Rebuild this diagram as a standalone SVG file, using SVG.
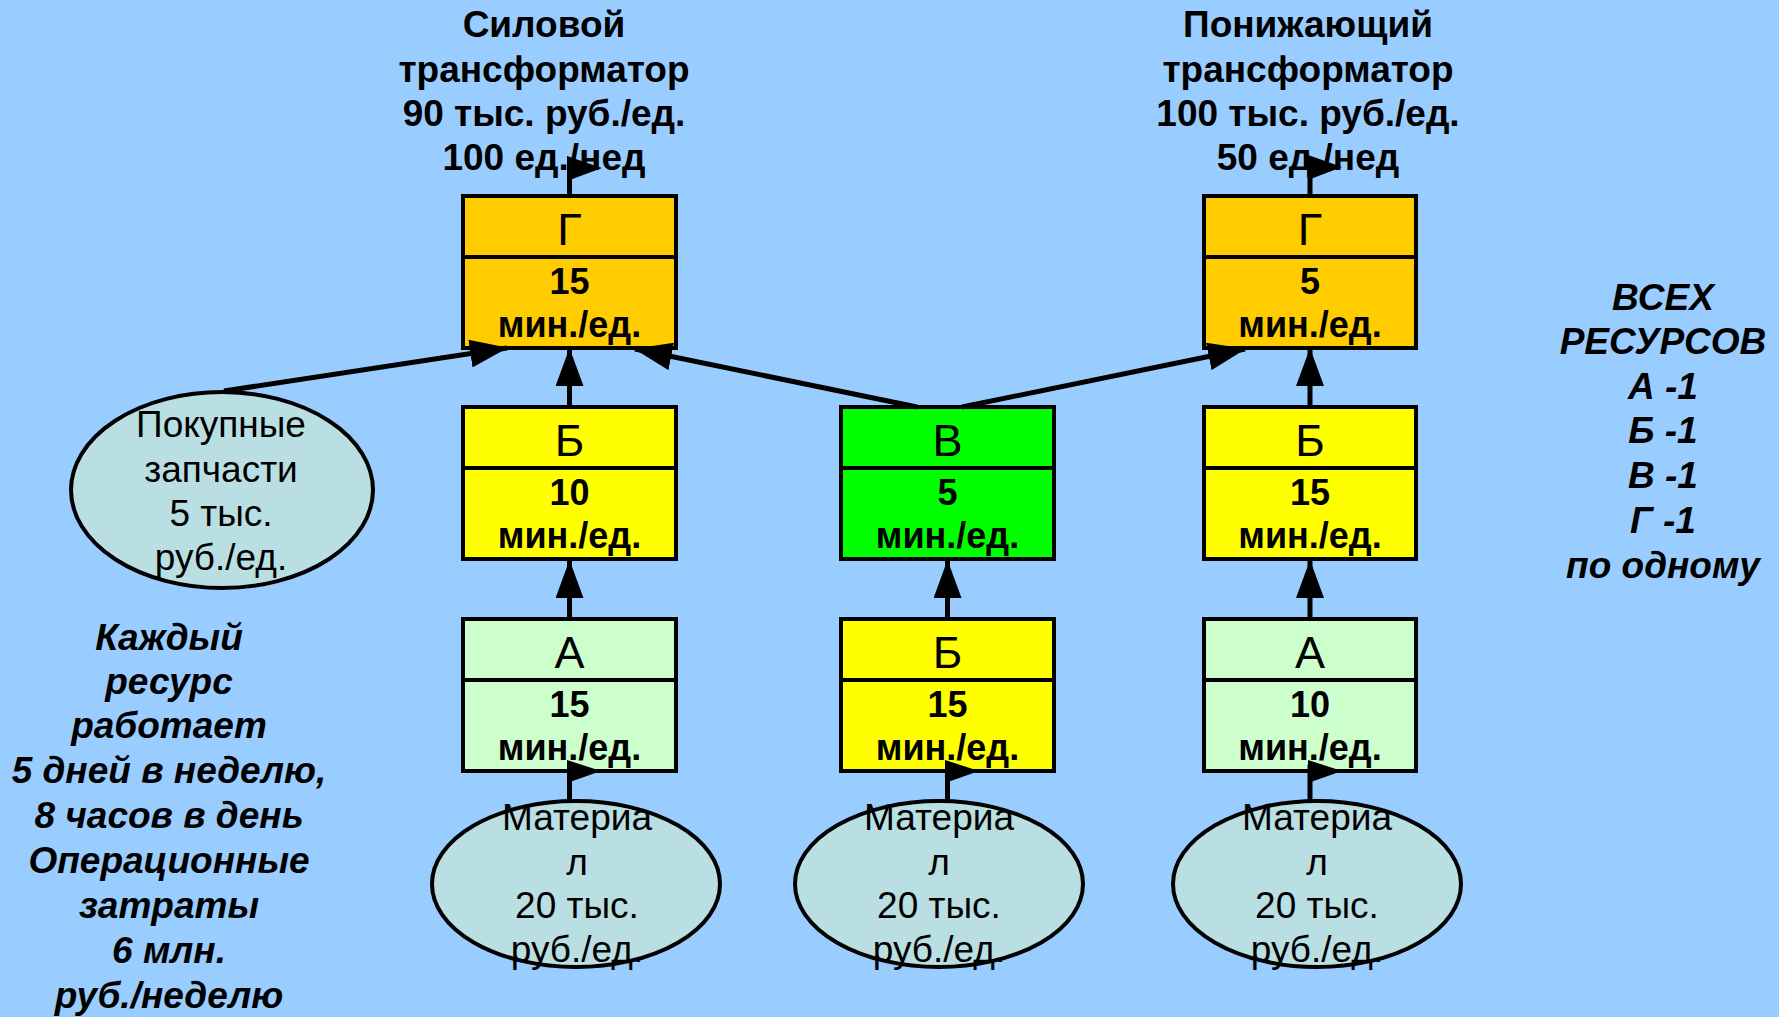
<svg xmlns="http://www.w3.org/2000/svg" width="1779" height="1017" viewBox="0 0 1779 1017">
<defs>
<style>
.bg{fill:#99CCFF}
.box{stroke:#000;stroke-width:4}
.div{stroke:#000;stroke-width:4}
.g{fill:#FFCC00}.b{fill:#FFFF00}.v{fill:#00FF00}.a{fill:#CCFFCC}
.ell{fill:#BADFE2;stroke:#000;stroke-width:4}
.t{font-family:"Liberation Sans",Arial,sans-serif;text-anchor:middle;fill:#000}
.let{font-size:45px}
.num{font-size:36px;font-weight:bold}
.ttl{font-size:37px;font-weight:bold}
.reg{font-size:37px}
.it{font-size:37px;font-weight:bold;font-style:italic}
.con{stroke:#000;stroke-width:5;fill:none}
.flag{fill:#000}
</style>
<marker id="ah" markerWidth="38" markerHeight="28" refX="37" refY="14" orient="auto" markerUnits="userSpaceOnUse">
<path d="M0,0 L38,14 L0,28 z" fill="#000"/>
</marker>
</defs>
<rect class="bg" x="0" y="0" width="1779" height="1017"/>

<g id="title-left" class="t ttl">
<text x="544" y="37">Силовой</text>
<text x="544" y="82">трансформатор</text>
<text x="544" y="126">90 тыс. руб./ед.</text>
<text x="544" y="170">100 ед./нед</text>
</g>
<g id="title-right" class="t ttl">
<text x="1308" y="37">Понижающий</text>
<text x="1308" y="82">трансформатор</text>
<text x="1308" y="126">100 тыс. руб./ед.</text>
<text x="1308" y="170">50 ед./нед</text>
</g>

<g id="node-g-left">
<rect class="box g" x="463" y="196" width="213" height="152"/>
<line class="div" x1="463" y1="257" x2="676" y2="257"/>
<text class="t let" x="569.5" y="245">Г</text>
<text class="t num" x="569.5" y="294">15</text>
<text class="t num" x="569.5" y="337">мин./ед.</text>
</g>
<g id="node-b-left">
<rect class="box b" x="463" y="407" width="213" height="152"/>
<line class="div" x1="463" y1="468" x2="676" y2="468"/>
<text class="t let" x="569.5" y="456">Б</text>
<text class="t num" x="569.5" y="505">10</text>
<text class="t num" x="569.5" y="548">мин./ед.</text>
</g>
<g id="node-a-left">
<rect class="box a" x="463" y="619" width="213" height="152"/>
<line class="div" x1="463" y1="680" x2="676" y2="680"/>
<text class="t let" x="569.5" y="668">А</text>
<text class="t num" x="569.5" y="717">15</text>
<text class="t num" x="569.5" y="760">мин./ед.</text>
</g>
<g id="node-v-mid">
<rect class="box v" x="841" y="407" width="213" height="152"/>
<line class="div" x1="841" y1="468" x2="1054" y2="468"/>
<text class="t let" x="947.5" y="456">В</text>
<text class="t num" x="947.5" y="505">5</text>
<text class="t num" x="947.5" y="548">мин./ед.</text>
</g>
<g id="node-b-mid">
<rect class="box b" x="841" y="619" width="213" height="152"/>
<line class="div" x1="841" y1="680" x2="1054" y2="680"/>
<text class="t let" x="947.5" y="668">Б</text>
<text class="t num" x="947.5" y="717">15</text>
<text class="t num" x="947.5" y="760">мин./ед.</text>
</g>
<g id="node-g-right">
<rect class="box g" x="1204" y="196" width="212" height="152"/>
<line class="div" x1="1204" y1="257" x2="1416" y2="257"/>
<text class="t let" x="1310" y="245">Г</text>
<text class="t num" x="1310" y="294">5</text>
<text class="t num" x="1310" y="337">мин./ед.</text>
</g>
<g id="node-b-right">
<rect class="box b" x="1204" y="407" width="212" height="152"/>
<line class="div" x1="1204" y1="468" x2="1416" y2="468"/>
<text class="t let" x="1310" y="456">Б</text>
<text class="t num" x="1310" y="505">15</text>
<text class="t num" x="1310" y="548">мин./ед.</text>
</g>
<g id="node-a-right">
<rect class="box a" x="1204" y="619" width="212" height="152"/>
<line class="div" x1="1204" y1="680" x2="1416" y2="680"/>
<text class="t let" x="1310" y="668">А</text>
<text class="t num" x="1310" y="717">10</text>
<text class="t num" x="1310" y="760">мин./ед.</text>
</g>

<g id="node-parts">
<ellipse class="ell" cx="222" cy="490" rx="151" ry="98"/>
<text class="t reg" x="221" y="437">Покупные</text>
<text class="t reg" x="221" y="482">запчасти</text>
<text class="t reg" x="221" y="526">5 тыс.</text>
<text class="t reg" x="221" y="570">руб./ед.</text>
</g>
<g id="node-mat-left">
<ellipse class="ell" cx="576" cy="884" rx="144" ry="83"/>
<text class="t reg" x="577" y="830">Материа</text>
<text class="t reg" x="577" y="875">л</text>
<text class="t reg" x="577" y="918">20 тыс.</text>
<text class="t reg" x="577" y="962">руб./ед.</text>
</g>
<g id="node-mat-mid">
<ellipse class="ell" cx="939" cy="884" rx="144" ry="83"/>
<text class="t reg" x="939" y="830">Материа</text>
<text class="t reg" x="939" y="875">л</text>
<text class="t reg" x="939" y="918">20 тыс.</text>
<text class="t reg" x="939" y="962">руб./ед.</text>
</g>
<g id="node-mat-right">
<ellipse class="ell" cx="1317" cy="884" rx="144" ry="83"/>
<text class="t reg" x="1317" y="830">Материа</text>
<text class="t reg" x="1317" y="875">л</text>
<text class="t reg" x="1317" y="918">20 тыс.</text>
<text class="t reg" x="1317" y="962">руб./ед.</text>
</g>

<g id="note-left" class="t it">
<text x="169" y="650">Каждый</text>
<text x="169" y="694">ресурс</text>
<text x="169" y="738">работает</text>
<text x="169" y="783">5 дней в неделю,</text>
<text x="169" y="828">8 часов в день</text>
<text x="169" y="873">Операционные</text>
<text x="169" y="918">затраты</text>
<text x="169" y="963">6 млн.</text>
<text x="169" y="1008">руб./неделю</text>
</g>
<g id="note-right" class="t it">
<text x="1663" y="310">ВСЕХ</text>
<text x="1663" y="354">РЕСУРСОВ</text>
<text x="1663" y="399">А -1</text>
<text x="1663" y="443">Б -1</text>
<text x="1663" y="488">В -1</text>
<text x="1663" y="533">Г -1</text>
<text x="1663" y="578">по одному</text>
</g>

<g id="connectors">
<line class="con" x1="569.5" y1="407" x2="569.5" y2="349" marker-end="url(#ah)"/>
<line class="con" x1="569.5" y1="619" x2="569.5" y2="561" marker-end="url(#ah)"/>
<line class="con" x1="947.5" y1="619" x2="947.5" y2="561" marker-end="url(#ah)"/>
<line class="con" x1="1310" y1="407" x2="1310" y2="349" marker-end="url(#ah)"/>
<line class="con" x1="1310" y1="619" x2="1310" y2="561" marker-end="url(#ah)"/>
<line class="con" x1="224" y1="391" x2="507" y2="348" marker-end="url(#ah)"/>
<line class="con" x1="917" y1="407" x2="635" y2="349" marker-end="url(#ah)"/>
<line class="con" x1="962" y1="407" x2="1245" y2="349" marker-end="url(#ah)"/>
<line class="con" x1="569.5" y1="196" x2="569.5" y2="160"/>
<polygon class="flag" points="567,156 602,168 567,181"/>
<line class="con" x1="1310" y1="196" x2="1310" y2="160"/>
<polygon class="flag" points="1308,155 1342,167 1308,180"/>
<line class="con" x1="569.5" y1="801" x2="569.5" y2="765"/>
<polygon class="flag" points="567,760 601,771 567,783"/>
<line class="con" x1="947.5" y1="801" x2="947.5" y2="765"/>
<polygon class="flag" points="945,760 979,771 945,783"/>
<line class="con" x1="1310" y1="801" x2="1310" y2="765"/>
<polygon class="flag" points="1308,760 1342,771 1308,783"/>
</g>
</svg>
